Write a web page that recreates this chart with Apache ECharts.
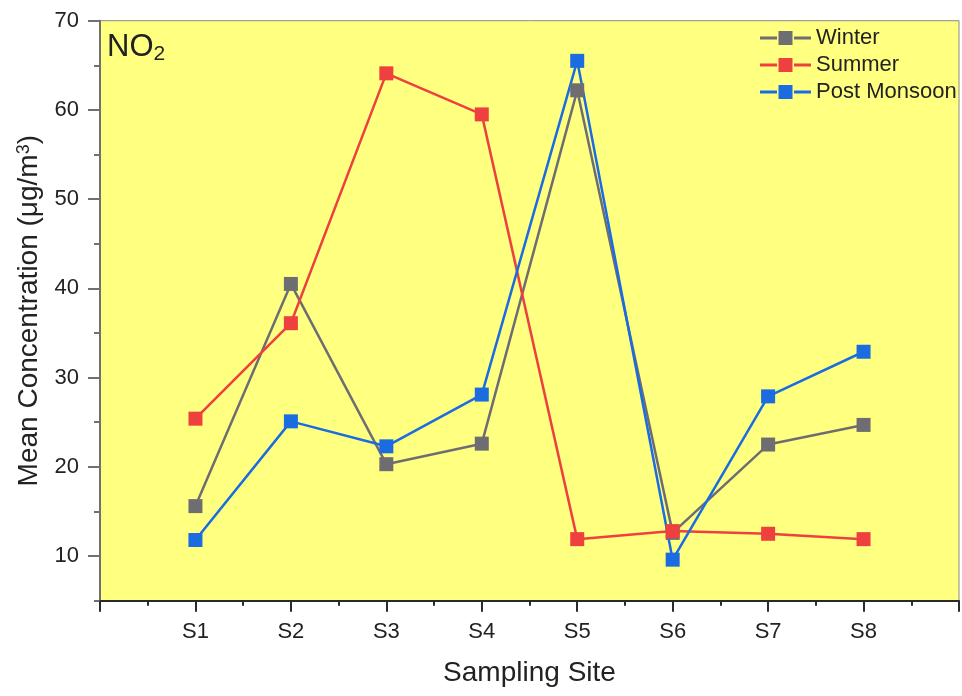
<!DOCTYPE html>
<html>
<head>
<meta charset="utf-8">
<script src="https://cdn.jsdelivr.net/npm/echarts@6/dist/echarts.min.js"></script>
<style>
html,body{margin:0;padding:0;background:#fff;}
#c{width:962px;height:696px;}
</style>
</head>
<body>
<div id="c"></div>
<script>
const categories = ['S1','S2','S3','S4','S5','S6','S7','S8'];
const winter = [15.6, 40.5, 20.3, 22.6, 62.2, 12.6, 22.5, 24.7];
const summer = [25.4, 36.1, 64.1, 59.5, 11.9, 12.8, 12.5, 11.9];
const postMonsoon = [11.8, 25.1, 22.3, 28.1, 65.5, 9.6, 27.9, 32.9];
const yMajorTicks = [10, 20, 30, 40, 50, 60, 70];
const yMinorTicks = [5, 15, 25, 35, 45, 55, 65];

const FONT = '"Liberation Sans", Arial, sans-serif';
const TXT = '#222222';
const LEGEND_ICON = 'path://M0,5.5L17,5.5L17,8.5L0,8.5Z M18.5,0L32.5,0L32.5,14L18.5,14Z M34,5.5L51,5.5L51,8.5L34,8.5Z';

function pts(arr){ return arr.map((v,i)=>[i+1, v]); }

const chart = echarts.init(document.getElementById('c'), null, {renderer:'canvas'});

function mk(name, data, color){
  return {
    name, type:'line', data: pts(data),
    symbol:'rect', symbolSize:14,
    lineStyle:{color, width:2.5},
    itemStyle:{color},
    emphasis:{disabled:true},
    animation:false
  };
}

chart.setOption({
  animation:false,
  textStyle:{fontFamily:FONT},
  grid:{left:100, right:2, top:20.7, bottom:95.3, show:true, backgroundColor:'#ffff80', borderColor:'#8a8a8a', borderWidth:1},
  legend:{
    orient:'vertical', left:755, top:22, itemWidth:51, itemHeight:14, itemGap:5, itemTextGap:7,
    icon: LEGEND_ICON,
    textStyle:{fontFamily:FONT, fontSize:22, color:TXT},
    data:['Winter','Summer','Post Monsoon']
  },
  xAxis:{
    type:'value', min:0, max:9, interval:1,
    name:'Sampling Site', nameLocation:'middle', nameGap:59,
    nameTextStyle:{fontFamily:FONT, fontSize:28, color:TXT},
    axisLine:{lineStyle:{color:'#2a2a2a', width:2}},
    axisTick:{show:true, length:11, lineStyle:{color:'#2a2a2a', width:2}},
    minorTick:{show:true, splitNumber:2, length:5, lineStyle:{color:'#2a2a2a', width:2}},
    splitLine:{show:false},
    axisLabel:{fontFamily:FONT, fontSize:22, color:TXT, margin:20,
      formatter:(v)=> (v>=1 && v<=categories.length && Number.isInteger(v)) ? categories[v-1] : ''}
  },
  yAxis:[{
    type:'value', min:5, max:70, position:'left',
    name:'Mean Concentration (μg/m{sup|3})', nameLocation:'middle', nameGap:55,
    nameTextStyle:{fontFamily:FONT, fontSize:28, color:TXT,
      rich:{sup:{fontFamily:FONT, fontSize:18, color:TXT, verticalAlign:'top', padding:[0,0,12,0]}}},
    axisLine:{lineStyle:{color:'#707070', width:2}},
    axisTick:{show:true, length:12, customValues:yMajorTicks, lineStyle:{color:'#707070', width:2}},
    splitLine:{show:false},
    axisLabel:{fontFamily:FONT, fontSize:22, color:TXT, margin:21, customValues:yMajorTicks}
  },{
    type:'value', min:5, max:70, position:'left', offset:0,
    axisLine:{show:false},
    axisTick:{show:true, length:6, customValues:yMinorTicks, lineStyle:{color:'#707070', width:2}},
    axisLabel:{show:false},
    splitLine:{show:false}
  }],
  graphic:[{
    type:'text', left:107, top:32,
    style:{
      text:'NO{sub|2}',
      font:'31px "Liberation Sans", Arial, sans-serif',
      fill:TXT,
      rich:{sub:{fontFamily:FONT, fontSize:21, fill:TXT, padding:[14,0,0,0]}}
    }
  }],
  series:[
    mk('Winter', winter, '#6e6e72'),
    mk('Summer', summer, '#ef4040'),
    mk('Post Monsoon', postMonsoon, '#1a6ce0')
  ]
});
</script>
</body>
</html>
